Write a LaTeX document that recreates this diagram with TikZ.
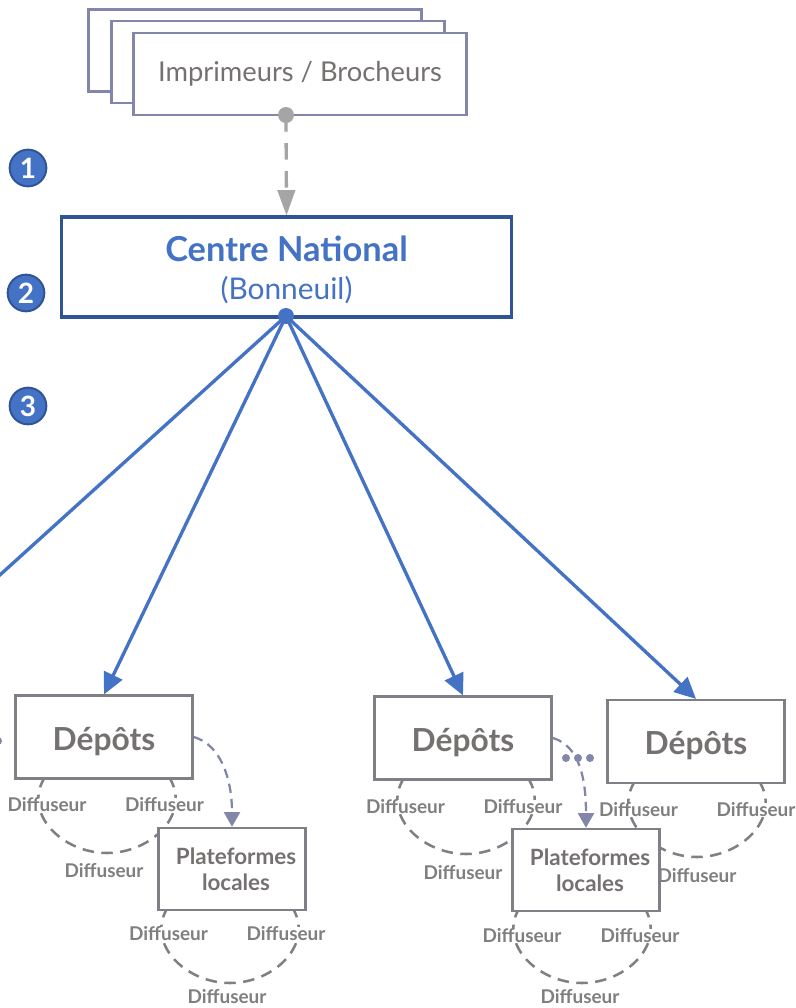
\documentclass[tikz,border=0pt]{standalone}
\usepackage{fontspec}
\setmainfont{Lato}
\usetikzlibrary{arrows.meta}
\definecolor{blu}{HTML}{4472C4}
\definecolor{dblu}{HTML}{2F5597}
\definecolor{slate}{HTML}{8286A8}
\definecolor{greyline}{HTML}{7F8085}
\definecolor{greytxt}{HTML}{767171}
\definecolor{greylab}{HTML}{7F7F7F}
\definecolor{dashgrey}{HTML}{A5A5A5}
\newcommand{\platlabel}{\hspace*{6pt}Plateformes\\\hspace*{6pt}locales}
\tikzset{
  x=0.75pt,y=-0.75pt,
  stackbox/.style={draw=slate,fill=white,line width=1.9pt,minimum width=250pt,minimum height=61.5pt,inner sep=0pt,text=greytxt,font=\fontsize{20.5}{24}\selectfont},
  centrebox/.style={draw=dblu,fill=white,line width=2.3pt,minimum width=338pt,minimum height=75pt,inner sep=0pt,text=blu,align=center,font=\fontsize{25.8}{28.5}\selectfont},
  depotbox/.style={draw=greyline,fill=white,line width=1.9pt,minimum width=133pt,minimum height=62pt,inner sep=0pt,text height=20pt,text depth=0pt,text=greytxt,font=\fontsize{23.8}{28}\selectfont\bfseries},
  platbox/.style={draw=greyline,fill=white,line width=1.9pt,minimum width=110.5pt,minimum height=61.5pt,inner sep=0pt,text=greytxt,align=center,font=\fontsize{16.8}{19.5}\selectfont\bfseries},
  difflabel/.style={fill=white,inner sep=0pt,text=greylab,font=\fontsize{14.2}{16}\selectfont\bfseries},
  numdisc/.style={circle,draw=dblu,fill=blu,line width=1.5pt,minimum size=27.5pt,inner sep=0pt,text=white,font=\fontsize{21}{24}\selectfont\bfseries},
  arcdash/.style={draw=greyline,line width=1.9pt,dash pattern=on 8.6pt off 5.6pt},
  blueline/.style={draw=blu,line width=2.5pt},
  hubline/.style={blueline,-{Triangle[length=16pt,width=15pt]}},
  feedline/.style={draw=dashgrey,line width=2.5pt,dash pattern=on 12.4pt off 8.6pt,-{Triangle[length=19pt,width=13pt]}},
  platline/.style={draw=slate,line width=1.7pt,dash pattern=on 7pt off 4.5pt,-{Triangle[length=11pt,width=12pt]}},
  smalldot/.style={circle,inner sep=0pt,minimum size=6pt},
}
\begin{document}
\begin{tikzpicture}
\clip (0,0) rectangle (796,1008);
\fill[white] (0,0) rectangle (796,1008);
% arcs under the boxes
\foreach \ax/\ay in {107/853,230/983,466/854,582/983,697/857}
  \draw[arcdash,shift={(\ax,\ay)}] (-62,-76) .. controls (-85,-40) and (-45,0) .. (0,0) .. controls (45,0) and (85,-40) .. (62,-76);
% labels
\foreach \lx/\ly/\ln in {47/805/a,164.5/805/b,104/871/c,168.5/934/d,286/934/e,227/997/f,405.5/807/g,523/807/h,463/873/i,522/936/j,640/936/k,580/997/l,638.5/810/m,756/810/n,697/876/o}
  \node[difflabel] (lab\ln) at (\lx,\ly) {Diffuseur};
% top stack
\node[stackbox] (back1) at (255,50.5) {};
\node[stackbox] (back2) at (278,62) {};
\node[stackbox] (imp) at (300,74) {Imprimeurs / Brocheurs};
% centre
\node[centrebox] (centre) at (286.5,267) {\rule{0pt}{23pt}\textbf{Centre National}\\{\fontsize{22.4}{28.5}\selectfont (Bonneuil)}};
% discs
\node[numdisc] (n1) at (28,168) {1};
\node[numdisc] (n2) at (26,293) {2};
\node[numdisc] (n3) at (28,406) {3};
% depots and platforms
\node[depotbox] (dep1) at (104,737) {Dépôts};
\node[depotbox] (dep2) at (463,738) {Dépôts};
\node[depotbox] (dep3) at (696,741.5) {Dépôts};
\node[platbox] (plat1) at (232,869) {\platlabel};
\node[platbox] (plat2) at (586,870) {\platlabel};
% connectors
\node[smalldot,fill=dashgrey,minimum size=12pt] (feed) at (286,115) {};
\node[smalldot,fill=blu,minimum size=12pt] (hub) at (286,316) {};
\coordinate (off) at (-20,593);
\draw[feedline] (feed.center) -- (centre.north);
\draw[blueline] (hub.center) -- (off);
\draw[hubline] (hub.center) -- (dep1.north);
\draw[hubline] (hub.center) -- (dep2.north);
\draw[hubline] (hub.center) -- (dep3.north);
\draw[platline] (dep1.east) .. controls +(27,8) and +(0,-48) .. (plat1.north);
\draw[platline] (dep2.east) .. controls +(27,8) and +(0,-48) .. (plat2.north);
% dots
\node[smalldot,fill=slate] (d1) at (566,758) {};
\node[smalldot,fill=slate] (d2) at (578,758) {};
\node[smalldot,fill=slate] (d3) at (590,758) {};
\node[smalldot,fill=slate] (d0) at (-2,741) {};
\end{tikzpicture}
\end{document}
